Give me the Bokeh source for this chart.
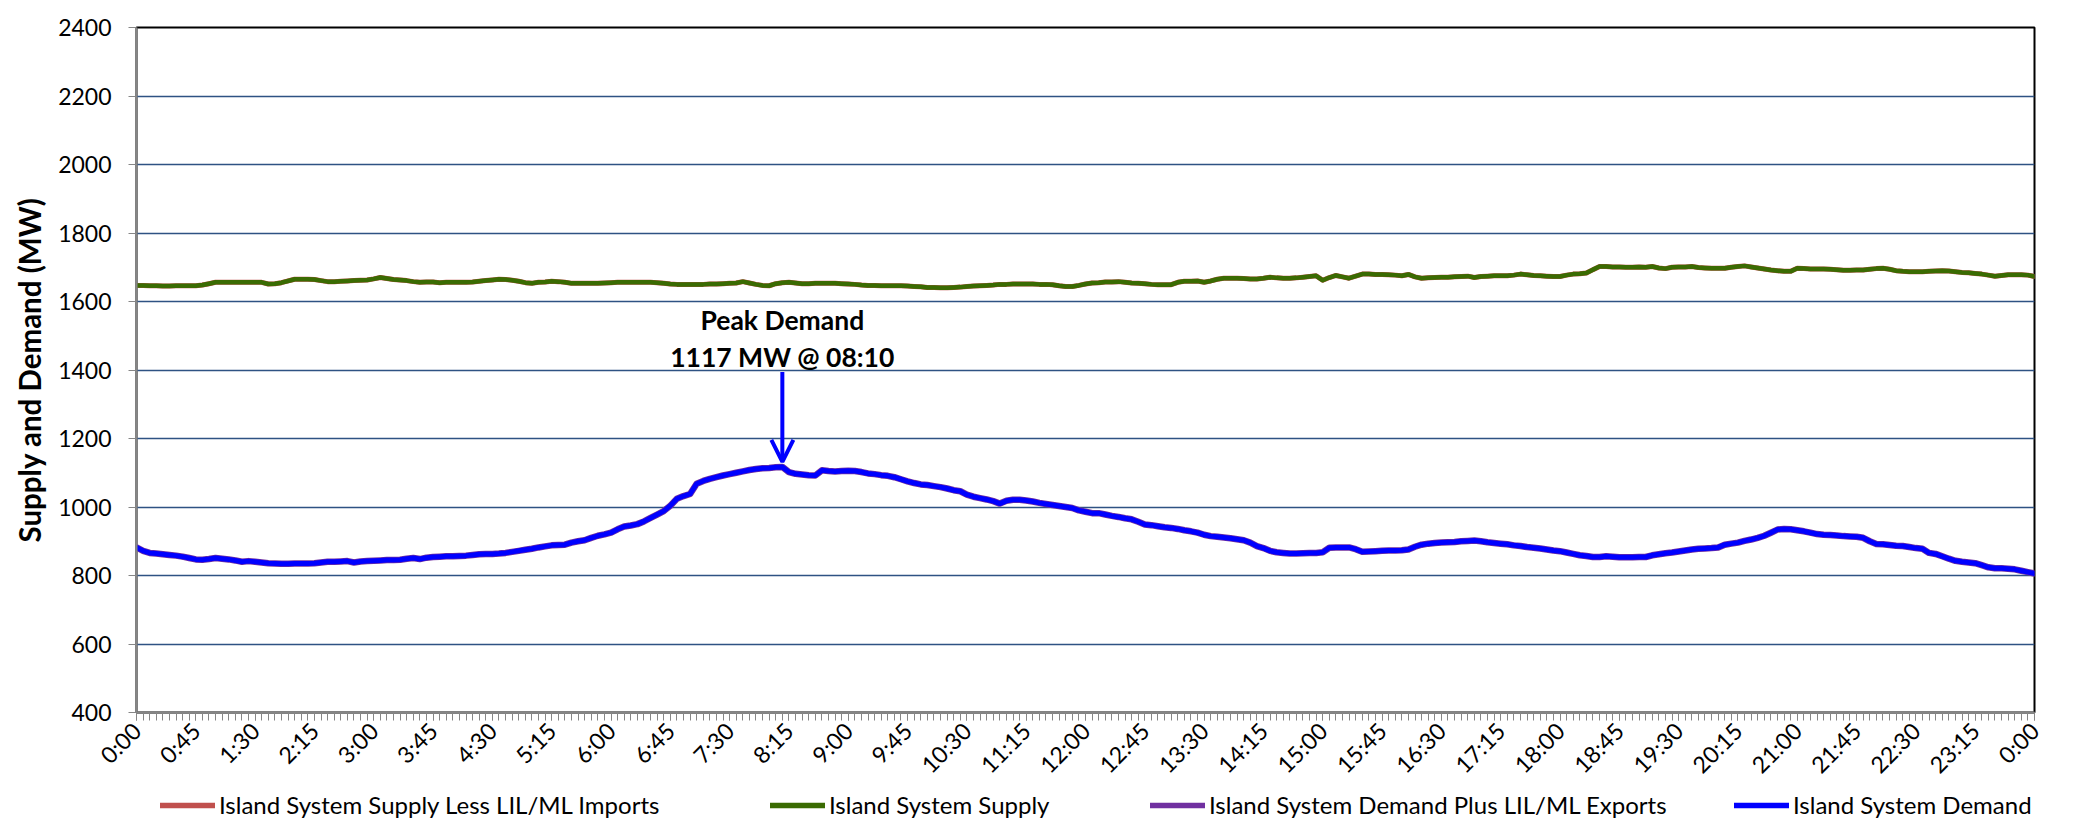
import math
from bokeh.plotting import figure
from bokeh.layouts import column
from bokeh.models import (Range1d, FixedTicker, Legend, LegendItem, Arrow, OpenHead, Label)
from bokeh.embed import file_html
from bokeh.resources import INLINE

# ---------------- data (5-minute intervals, 0:00 .. 24:00) ----------------
island_demand = [
    882, 872, 866, 864, 862, 860, 858, 855, 851, 847,
    846, 848, 851, 849, 847, 844, 840, 842, 840, 838,
    836, 835, 834, 834, 835, 835, 835, 836, 838, 840,
    840, 841, 842, 838, 841, 842, 843, 844, 845, 845,
    846, 849, 851, 848, 852, 854, 855, 856,
    856, 857, 858, 860, 862, 863, 863, 864, 866, 869,
    872, 875, 878, 882, 885, 888, 889, 890, 896, 900,
    903, 910, 916, 920, 925, 935, 943, 946, 950, 958,
    968, 978, 988, 1004, 1024, 1032, 1038, 1068, 1076, 1082,
    1087, 1092, 1096, 1100, 1104, 1108, 1111, 1113, 1114,
    1116, 1117, 1102, 1097, 1095, 1093, 1092, 1107, 1105, 1104,
    1105, 1106, 1105, 1102, 1098, 1096, 1093, 1091, 1087, 1081,
    1075, 1070, 1066, 1064, 1061, 1058, 1054, 1049, 1046, 1036,
    1030, 1026, 1022, 1017, 1010, 1018, 1021, 1021, 1019, 1016,
    1012, 1009, 1006, 1003, 1000, 997, 990, 986, 982,
    982, 978, 974, 971, 967, 964, 957, 949, 947, 944,
    941, 939, 936, 932, 929, 925, 919, 915, 913, 911,
    909, 906, 903, 896, 886, 880, 872, 868, 866, 864,
    864, 865, 866, 866, 868, 881, 882, 882, 882, 877,
    869, 870, 871, 872, 873, 873, 874, 876,
    884, 890, 893, 895, 896, 897, 898, 900, 901, 902,
    900, 897, 895, 893, 891, 888, 886, 883, 881, 879,
    876, 873, 871, 867, 863, 859, 857, 854, 854, 856,
    855, 853, 853, 853, 854, 854, 859, 862, 865, 867,
    870, 873, 876, 878, 879, 880, 882, 890,
    893, 896, 901, 905, 910, 916, 925, 934, 936, 935,
    932, 929, 925, 921, 919, 918, 917, 915, 914, 913,
    910, 900, 892, 891, 889, 887, 886, 883, 880, 878,
    866, 863, 856, 849, 843, 840, 838, 836, 830, 824,
    821, 821, 820, 818, 814, 810, 806,
]

island_supply = [
    1647, 1647, 1646, 1646, 1645, 1645, 1646, 1646, 1646, 1646,
    1648, 1652, 1656, 1656, 1656, 1656, 1656, 1656, 1656, 1656,
    1651, 1652, 1655, 1660, 1665, 1665, 1665, 1664, 1661, 1658,
    1658, 1659, 1660, 1661, 1662, 1663, 1666, 1670, 1667, 1664,
    1663, 1661, 1658, 1656, 1657, 1657, 1655, 1656,
    1656, 1656, 1656, 1657, 1659, 1661, 1663, 1665, 1664, 1662,
    1659, 1655, 1653, 1656, 1657, 1659, 1658, 1656, 1653, 1653,
    1653, 1653, 1653, 1654, 1655, 1656, 1656, 1656, 1656, 1656,
    1656, 1655, 1653, 1651, 1650, 1650, 1650, 1650, 1650, 1651,
    1651, 1652, 1653, 1654, 1658, 1654, 1650, 1647, 1646,
    1652, 1655, 1656, 1654, 1652, 1652, 1653, 1653, 1653, 1653,
    1652, 1651, 1650, 1648, 1647, 1647, 1646, 1646, 1646, 1646,
    1645, 1644, 1643, 1641, 1641, 1640, 1640, 1641, 1642, 1644,
    1645, 1646, 1647, 1648, 1650, 1650, 1651, 1651, 1651, 1651,
    1650, 1650, 1649, 1646, 1644, 1644, 1647, 1651, 1654,
    1655, 1657, 1657, 1658, 1656, 1654, 1653, 1652, 1650, 1649,
    1649, 1649, 1656, 1659, 1659, 1660, 1656, 1660, 1665, 1668,
    1668, 1668, 1667, 1666, 1666, 1668, 1671, 1669, 1668, 1668,
    1669, 1671, 1673, 1675, 1662, 1670, 1676, 1672, 1668, 1674,
    1680, 1680, 1679, 1679, 1678, 1677, 1675, 1679,
    1672, 1668, 1669, 1670, 1671, 1671, 1672, 1673, 1674, 1670,
    1673, 1674, 1675, 1675, 1675, 1677, 1680, 1678, 1676, 1675,
    1674, 1673, 1673, 1677, 1680, 1681, 1683, 1693, 1702, 1702,
    1701, 1701, 1700, 1700, 1701, 1700, 1702, 1698, 1696, 1700,
    1701, 1701, 1702, 1699, 1698, 1697, 1697, 1697,
    1700, 1702, 1704, 1701, 1698, 1695, 1692, 1690, 1688, 1688,
    1697, 1696, 1695, 1695, 1695, 1694, 1693, 1691, 1691, 1692,
    1692, 1694, 1696, 1697, 1694, 1690, 1688, 1687, 1687, 1687,
    1688, 1689, 1690, 1689, 1687, 1685, 1684, 1682, 1680, 1677,
    1674, 1676, 1678, 1678, 1678, 1677, 1673,
]

# hidden series (identical values, drawn underneath)
supply_less_imports = list(island_supply)
demand_plus_exports = list(island_demand)

tick_labels = ["0:00", "0:45", "1:30", "2:15", "3:00", "3:45", "4:30", "5:15",
               "6:00", "6:45", "7:30", "8:15", "9:00", "9:45", "10:30", "11:15",
               "12:00", "12:45", "13:30", "14:15", "15:00", "15:45", "16:30", "17:15",
               "18:00", "18:45", "19:30", "20:15", "21:00", "21:45", "22:30", "23:15",
               "0:00"]
tick_step = 9  # 45 minutes in 5-minute steps

series_names = ["Island System Supply Less LIL/ML Imports", "Island System Supply",
                "Island System Demand Plus LIL/ML Exports", "Island System Demand"]
series_colors = ["#C0504D", "#3A6B02", "#7030A0", "#0000FF"]
series_widths = [5, 4.5, 6.5, 5]

peak_value = 1117
peak_label = "1117 MW @ 08:10"

# ---------------- main figure ----------------
n = len(island_demand)
x = list(range(n))
all_series = [supply_less_imports, island_supply, demand_plus_exports, island_demand]
FONT = "Lato"
H_MAIN = 791

p = figure(width=2089, height=H_MAIN, output_backend="svg", toolbar_location=None,
           x_range=Range1d(0, n - 1), y_range=Range1d(400, 2400),
           min_border_left=136, min_border_right=55, min_border_top=27,
           min_border_bottom=H_MAIN - 713)
p.background_fill_color = "white"
p.border_fill_color = "white"
p.outline_line_color = "black"
p.outline_line_width = 2

for vals, col, lw in zip(all_series, series_colors, series_widths):
    p.line(x, vals, line_color=col, line_width=lw, line_join="round", line_cap="round")

major = [i * tick_step for i in range(len(tick_labels))]
p.xaxis.ticker = FixedTicker(ticks=major, minor_ticks=x)
p.xaxis.major_label_overrides = {t: lab for t, lab in zip(major, tick_labels)}
p.xaxis.major_label_orientation = math.pi / 4
p.xaxis.major_label_text_font = FONT
p.xaxis.major_label_text_font_size = "23px"
p.xaxis.major_label_text_color = "black"
p.xaxis.major_label_standoff = 6
p.xaxis.major_tick_out = 8
p.xaxis.major_tick_in = 0
p.xaxis.minor_tick_out = 8
p.xaxis.minor_tick_in = 0
p.xaxis.major_tick_line_color = "#868686"
p.xaxis.minor_tick_line_color = "#868686"
p.xaxis.axis_line_color = "#868686"
p.xaxis.axis_line_width = 2

p.yaxis.ticker = FixedTicker(ticks=list(range(400, 2401, 200)))
p.yaxis.major_label_text_font = FONT
p.yaxis.major_label_text_font_size = "23px"
p.yaxis.major_label_text_color = "black"
p.yaxis.major_label_standoff = 17
p.yaxis.major_tick_out = 8
p.yaxis.major_tick_in = 0
p.yaxis.minor_tick_line_color = None
p.yaxis.major_tick_line_color = "#868686"
p.yaxis.axis_line_color = "#868686"
p.yaxis.axis_line_width = 2
p.yaxis.axis_label = "Supply and Demand (MW)"
p.yaxis.axis_label_text_font = FONT
p.yaxis.axis_label_text_font_style = "bold"
p.yaxis.axis_label_text_font_size = "29.5px"
p.yaxis.axis_label_text_color = "black"
p.yaxis.axis_label_standoff = 8

p.xgrid.grid_line_color = None
p.ygrid.grid_line_color = "#2E5283"
p.ygrid.grid_line_width = 1.5

peak_x = island_demand.index(max(island_demand))
p.add_layout(Label(x=peak_x, y=1545, text="Peak Demand", text_align="center",
                   text_baseline="alphabetic",
                   text_font=FONT, text_font_style="bold", text_font_size="26.5px",
                   text_color="black"))
p.add_layout(Label(x=peak_x, y=1438, text=peak_label, text_align="center",
                   text_baseline="alphabetic",
                   text_font=FONT, text_font_style="bold", text_font_size="26.5px",
                   text_color="black"))
p.add_layout(Arrow(end=OpenHead(size=22, line_color="#0000FF", line_width=4),
                   x_start=peak_x, y_start=1394, x_end=peak_x, y_end=peak_value + 15,
                   line_color="#0000FF", line_width=4))

# ---------------- legend strip (frame aligned with the main plot) ----------------
H_LEG = 818 - H_MAIN
pl = figure(width=2089, height=H_LEG, output_backend="svg", toolbar_location=None,
            x_axis_type=None, y_axis_type=None, min_border=0,
            x_range=Range1d(0, n - 1), y_range=Range1d(0, 1))
pl.outline_line_color = None
pl.grid.visible = False
pl.background_fill_color = "white"
pl.border_fill_color = "white"

legend_x = [24, 634, 1014, 1598]   # offsets from the frame's left edge
for nm, vals, col, lx in zip(series_names, all_series, series_colors, legend_x):
    # series values lie far outside this strip's y range: only the legend swatch shows
    r = pl.line(x, vals, line_color=col, line_width=5.5, line_cap="round")
    lg = Legend(items=[LegendItem(label=nm, renderers=[r])],
                location=(lx, -1), orientation="horizontal",
                glyph_width=55, glyph_height=20, label_standoff=4, label_height=20,
                padding=0, margin=0, border_line_alpha=0, background_fill_alpha=0,
                label_text_font=FONT, label_text_font_size="24px",
                label_text_color="black")
    pl.add_layout(lg, "center")

open("out.html", "w").write(file_html(column(p, pl), INLINE))
